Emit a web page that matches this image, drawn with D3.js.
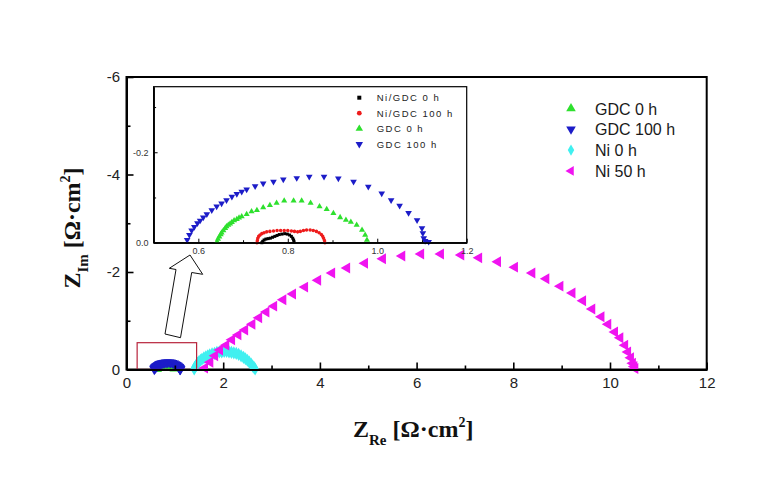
<!DOCTYPE html>
<html><head><meta charset="utf-8">
<script src="https://cdn.jsdelivr.net/npm/d3@7"></script>
<style>
body{margin:0;background:#fff;}
svg{display:block;}
</style></head>
<body>
<svg id="chart" width="782" height="489"></svg>
<script>
// ---------- DATA ----------
const mainXTicks = [0, 2, 4, 6, 8, 10, 12];
const mainXMinor = [1, 3, 5, 7, 9, 11];
const mainYTicks = [0, -2, -4, -6];
const mainYMinor = [-1, -3, -5];
const insetXTicks = [0.6, 0.8, 1.0, 1.2];
const insetXMinor = [0.7, 0.9, 1.1];
const insetYTicks = [0, -0.2];
const insetYMinor = [-0.1, -0.3];

const mainLegend = ["GDC 0 h", "GDC 100 h", "Ni 0 h", "Ni 50 h"];
const insetLegend = ["Ni/GDC 0 h", "Ni/GDC 100 h", "GDC 0 h", "GDC 100 h"];

// [Z_Re, Z_Im] in ohm·cm2
const niGdc0 = [[0.742,0],[0.744,-0.003],[0.747,-0.006],[0.751,-0.008],[0.756,-0.009],[0.761,-0.010],[0.766,-0.012],[0.771,-0.014],[0.776,-0.016],[0.781,-0.018],[0.787,-0.019],[0.793,-0.020],[0.799,-0.019],[0.804,-0.017],[0.808,-0.014],[0.811,-0.010],[0.813,-0.006],[0.814,-0.002]];
const niGdc100 = [[0.731,0],[0.732,-0.005],[0.733,-0.010],[0.735,-0.014],[0.738,-0.017],[0.742,-0.020],[0.747,-0.022],[0.753,-0.024],[0.760,-0.025],[0.768,-0.026],[0.776,-0.027],[0.784,-0.027],[0.792,-0.027],[0.800,-0.027],[0.808,-0.026],[0.815,-0.025],[0.822,-0.024],[0.828,-0.025],[0.835,-0.027],[0.842,-0.028],[0.850,-0.028],[0.857,-0.027],[0.864,-0.025],[0.870,-0.022],[0.875,-0.018],[0.878,-0.014],[0.880,-0.010],[0.882,-0.005],[0.883,0]];
const gdc0 = [[0.642,-0.002],[0.644,-0.008],[0.647,-0.013],[0.650,-0.018],[0.652,-0.022],[0.656,-0.027],[0.660,-0.032],[0.663,-0.036],[0.667,-0.039],[0.671,-0.042],[0.675,-0.045],[0.680,-0.049],[0.686,-0.052],[0.691,-0.055],[0.697,-0.058],[0.708,-0.063],[0.719,-0.069],[0.731,-0.072],[0.745,-0.078],[0.760,-0.083],[0.775,-0.088],[0.792,-0.093],[0.813,-0.093],[0.831,-0.093],[0.851,-0.088],[0.871,-0.080],[0.887,-0.074],[0.902,-0.065],[0.917,-0.056],[0.930,-0.050],[0.941,-0.046],[0.954,-0.039],[0.966,-0.028],[0.973,-0.017],[0.977,-0.006]];
const gdc100 = [[0.575,-0.006],[0.580,-0.017],[0.585,-0.027],[0.591,-0.035],[0.598,-0.043],[0.604,-0.049],[0.611,-0.056],[0.619,-0.063],[0.630,-0.072],[0.641,-0.080],[0.652,-0.087],[0.663,-0.094],[0.675,-0.102],[0.686,-0.108],[0.697,-0.113],[0.708,-0.118],[0.727,-0.125],[0.745,-0.131],[0.768,-0.135],[0.790,-0.140],[0.820,-0.143],[0.848,-0.146],[0.881,-0.146],[0.913,-0.142],[0.947,-0.135],[0.980,-0.124],[1.010,-0.109],[1.031,-0.094],[1.050,-0.082],[1.070,-0.066],[1.089,-0.050],[1.100,-0.032],[1.102,-0.021],[1.104,-0.010],[1.107,-0.004],[1.115,-0.002]];
const ni0 = [[1.40,-0.01],[1.41,-0.04],[1.43,-0.07],[1.45,-0.10],[1.47,-0.13],[1.50,-0.16],[1.53,-0.19],[1.56,-0.21],[1.60,-0.24],[1.64,-0.26],[1.68,-0.28],[1.72,-0.30],[1.77,-0.32],[1.82,-0.33],[1.87,-0.35],[1.92,-0.36],[1.97,-0.36],[2.02,-0.37],[2.07,-0.37],[2.12,-0.36],[2.17,-0.35],[2.22,-0.34],[2.27,-0.33],[2.32,-0.31],[2.37,-0.28],[2.42,-0.25],[2.46,-0.22],[2.50,-0.19],[2.54,-0.15],[2.58,-0.11],[2.61,-0.07],[2.64,-0.04],[2.66,-0.01]];
const ni50 = [[1.62,-0.03],[1.73,-0.15],[1.83,-0.28],[1.93,-0.40],[2.06,-0.50],[2.18,-0.61],[2.31,-0.71],[2.45,-0.81],[2.60,-0.93],[2.74,-1.06],[2.89,-1.18],[3.05,-1.30],[3.24,-1.43],[3.44,-1.55],[3.69,-1.69],[3.96,-1.83],[4.25,-1.98],[4.56,-2.08],[4.93,-2.18],[5.30,-2.27],[5.70,-2.33],[6.09,-2.37],[6.50,-2.37],[6.92,-2.35],[7.29,-2.29],[7.68,-2.21],[8.03,-2.10],[8.39,-1.98],[8.68,-1.86],[8.97,-1.71],[9.22,-1.57],[9.44,-1.41],[9.63,-1.24],[9.82,-1.08],[9.96,-0.93],[10.10,-0.77],[10.21,-0.65],[10.31,-0.50],[10.37,-0.36],[10.43,-0.24],[10.47,-0.13],[10.50,-0.06],[10.52,-0.02]];
const zoomBox = [[0.22, 0], [1.45, -0.55]];

// ---------- STYLE ----------
const C = {green:"#2ee02e", blue:"#1c1cc8", cyan:"#40f0f0", magenta:"#f014f0", black:"#000", red:"#ee1c1c", box:"#b8243c"};
const svg = d3.select("#chart");
const sansF = "'Liberation Sans', Arial, sans-serif";
const serifF = "'Liberation Serif', 'Times New Roman', serif";

const x = d3.scaleLinear().domain([0, 12]).range([126.5, 706.7]);
const y = d3.scaleLinear().domain([0, -6]).range([369.5, 77]);

function drawSeries(g, data, sx, sy, type, size, rot, color) {
  const path = d3.symbol().type(type).size(size)();
  g.append("g").selectAll("path").data(data).join("path")
    .attr("d", path)
    .attr("transform", d => `translate(${sx(d[0])},${sy(d[1])}) rotate(${rot})`)
    .attr("fill", color);
}

// ---------- MAIN PLOT ----------
const main = svg.append("g");
main.append("rect").attr("x", x(0)).attr("y", y(-6))
  .attr("width", x(12) - x(0)).attr("height", y(0) - y(-6))
  .attr("fill", "none").attr("stroke", "#000").attr("stroke-width", 2);

drawSeries(main, gdc0, x, y, d3.symbolTriangle, 30, 0, C.green);
drawSeries(main, gdc100, x, y, d3.symbolTriangle, 46, 180, C.blue);
drawSeries(main, ni0, x, y, d3.symbolDiamond, 50, 0, C.cyan);
drawSeries(main, ni50, x, y, d3.symbolTriangle, 52, -90, C.magenta);

// zoom rectangle
main.append("rect")
  .attr("x", x(zoomBox[0][0])).attr("y", y(zoomBox[1][1]))
  .attr("width", x(zoomBox[1][0]) - x(zoomBox[0][0]))
  .attr("height", y(zoomBox[0][1]) - y(zoomBox[1][1]))
  .attr("fill", "none").attr("stroke", C.box).attr("stroke-width", 1.2);

// axes
function styleAxis(g, fs) {
  g.select(".domain").attr("stroke", "#000").attr("stroke-width", 2);
  g.selectAll(".tick line").attr("stroke", "#000").attr("stroke-width", 1.6);
  g.selectAll(".tick text").attr("font-family", sansF).attr("font-size", fs).attr("fill", "#222");
}
const xAx = main.append("g").attr("transform", `translate(0,${y(0)})`)
  .call(d3.axisBottom(x).tickValues(mainXTicks).tickFormat(d3.format("d")).tickSizeInner(-7).tickSizeOuter(0).tickPadding(7.5));
styleAxis(xAx, 15);
const xAxm = main.append("g").attr("transform", `translate(0,${y(0)})`)
  .call(d3.axisBottom(x).tickValues(mainXMinor).tickFormat("").tickSizeInner(-4).tickSizeOuter(0));
styleAxis(xAxm, 15);
const yAx = main.append("g").attr("transform", `translate(${x(0)},0)`)
  .call(d3.axisLeft(y).tickValues(mainYTicks).tickFormat(d => String(d)).tickSizeInner(-7).tickSizeOuter(0).tickPadding(6.5));
styleAxis(yAx, 15);
const yAxm = main.append("g").attr("transform", `translate(${x(0)},0)`)
  .call(d3.axisLeft(y).tickValues(mainYMinor).tickFormat("").tickSizeInner(-4).tickSizeOuter(0));
styleAxis(yAxm, 15);

// axis titles
const xt = svg.append("text").attr("x", 353).attr("y", 437)
  .attr("font-family", serifF).attr("font-weight", "bold").attr("font-size", 24).attr("fill", "#111");
xt.append("tspan").text("Z");
xt.append("tspan").attr("dy", 8).attr("font-size", 15).text("Re");
xt.append("tspan").attr("dy", -8).text(" [Ω·cm");
xt.append("tspan").attr("dy", -10).attr("font-size", 14).text("2");
xt.append("tspan").attr("dy", 10).text("]");

const yt = svg.append("text").attr("transform", "translate(80,228) rotate(-90)")
  .attr("text-anchor", "middle")
  .attr("font-family", serifF).attr("font-weight", "bold").attr("font-size", 24).attr("fill", "#111");
yt.append("tspan").text("Z");
yt.append("tspan").attr("dy", 8).attr("font-size", 15).text("Im");
yt.append("tspan").attr("dy", -8).text(" [Ω·cm");
yt.append("tspan").attr("dy", -10).attr("font-size", 14).text("2");
yt.append("tspan").attr("dy", 10).text("]");

// main legend
const mainSyms = [[d3.symbolTriangle, 0, C.green, 40], [d3.symbolTriangle, 180, C.blue, 40], [d3.symbolDiamond, 0, C.cyan, 36], [d3.symbolTriangle, -90, C.magenta, 40]];
const leg = svg.append("g");
mainLegend.forEach((t, i) => {
  const ry = 108.5 + i * 20.8;
  const s = mainSyms[i];
  leg.append("path").attr("d", d3.symbol().type(s[0]).size(s[3])())
    .attr("transform", `translate(571,${ry}) rotate(${s[1]})`).attr("fill", s[2]);
  leg.append("text").attr("x", 595).attr("y", ry + 6).text(t)
    .attr("font-family", sansF).attr("font-size", 16).attr("fill", "#1a1a1a");
});

// arrow (annotation)
svg.append("path")
  .attr("d", "M190,255 L169.3,268.3 L176,269.5 L165,334 L180.5,337.7 L191.7,272.5 L202.7,274.3 Z")
  .attr("fill", "#fff").attr("stroke", "#111").attr("stroke-width", 1);

// ---------- INSET ----------
const ix = d3.scaleLinear().domain([0.5, 1.2]).range([153.6, 466.7]);
const iy = d3.scaleLinear().domain([0, -0.345]).range([242.7, 86.7]);
const inset = svg.append("g");
inset.append("rect").attr("x", ix(0.5)).attr("y", iy(-0.345))
  .attr("width", ix(1.2) - ix(0.5)).attr("height", iy(0) - iy(-0.345))
  .attr("fill", "#fff").attr("stroke", "#000").attr("stroke-width", 1.2);

drawSeries(inset, niGdc0, ix, iy, d3.symbolSquare, 9, 0, C.black);
drawSeries(inset, niGdc100, ix, iy, d3.symbolCircle, 10, 0, C.red);
drawSeries(inset, gdc0, ix, iy, d3.symbolTriangle, 16, 0, C.green);
drawSeries(inset, gdc100, ix, iy, d3.symbolTriangle, 19, 180, C.blue);

function styleInset(g) {
  g.select(".domain").attr("stroke", "#000").attr("stroke-width", 1.3);
  g.selectAll(".tick line").attr("stroke", "#000").attr("stroke-width", 1);
  g.selectAll(".tick text").attr("font-family", sansF).attr("font-size", 9).attr("fill", "#333");
}
const ixAx = inset.append("g").attr("transform", `translate(0,${iy(0)})`)
  .call(d3.axisBottom(ix).tickValues(insetXTicks).tickFormat(d => d.toFixed(1)).tickSizeInner(-4).tickSizeOuter(0).tickPadding(4.5));
styleInset(ixAx);
const ixAxm = inset.append("g").attr("transform", `translate(0,${iy(0)})`)
  .call(d3.axisBottom(ix).tickValues(insetXMinor).tickFormat("").tickSizeInner(-2.5).tickSizeOuter(0));
styleInset(ixAxm);
const iyAx = inset.append("g").attr("transform", `translate(${ix(0.5)},0)`)
  .call(d3.axisLeft(iy).tickValues(insetYTicks).tickFormat(d => (d === 0 ? "0.0" : d.toFixed(1))).tickSizeInner(-4).tickSizeOuter(0).tickPadding(5));
styleInset(iyAx);
const iyAxm = inset.append("g").attr("transform", `translate(${ix(0.5)},0)`)
  .call(d3.axisLeft(iy).tickValues(insetYMinor).tickFormat("").tickSizeInner(-2.5).tickSizeOuter(0));
styleInset(iyAxm);

// inset legend
const insetSyms = [[d3.symbolSquare, 0, C.black, 16], [d3.symbolCircle, 0, C.red, 18], [d3.symbolTriangle, 0, C.green, 24], [d3.symbolTriangle, 180, C.blue, 24]];
insetLegend.forEach((t, i) => {
  const ry = 97.7 + i * 15.5;
  const s = insetSyms[i];
  inset.append("path").attr("d", d3.symbol().type(s[0]).size(s[3])())
    .attr("transform", `translate(359.3,${ry}) rotate(${s[1]})`).attr("fill", s[2]);
  inset.append("text").attr("x", 376.7).attr("y", ry + 3.5).text(t)
    .attr("font-family", sansF).attr("font-size", 9.5).attr("letter-spacing", "1.5px").attr("fill", "#222");
});
</script>
</body></html>
